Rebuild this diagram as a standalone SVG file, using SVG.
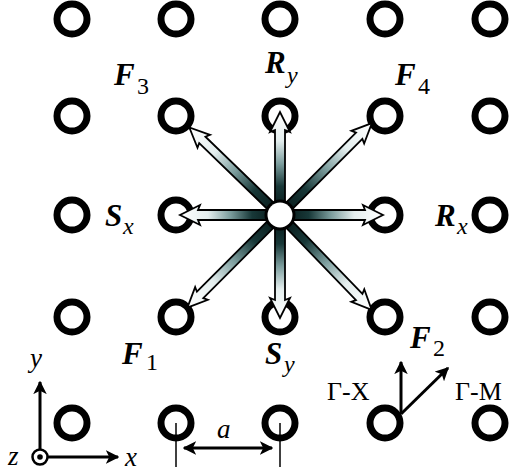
<svg xmlns="http://www.w3.org/2000/svg" width="511" height="474" viewBox="0 0 511 474">
<style>
.site{fill:none;stroke:#000;stroke-width:7}
.arr{stroke:#000;stroke-width:1.8;stroke-linejoin:miter;fill:url(#g)}
.lbl{font-family:"Liberation Serif","Times New Roman",serif;font-weight:bold;font-style:italic;font-size:31px;fill:#000}
.sub{font-family:"Liberation Serif","Times New Roman",serif;font-size:24px;fill:#000}
.subi{font-family:"Liberation Serif","Times New Roman",serif;font-style:italic;font-size:24px;fill:#000}
.ax{font-family:"Liberation Serif","Times New Roman",serif;font-style:italic;font-size:27px;fill:#000}
.gm{font-family:"Liberation Serif","Times New Roman",serif;font-size:26px;fill:#000}
.ln{stroke:#000;stroke-width:3;fill:none}
</style>
<defs>
<linearGradient id="g" x1="0" y1="0" x2="1" y2="0">
<stop offset="0" stop-color="#031212"/>
<stop offset="0.28" stop-color="#183838"/>
<stop offset="0.5" stop-color="#7d9e9e"/>
<stop offset="0.72" stop-color="#e4eeee"/>
<stop offset="1" stop-color="#ffffff"/>
</linearGradient>
<marker id="ah" viewBox="0 0 10 10" refX="9" refY="5" markerWidth="4.5" markerHeight="4.5" orient="auto-start-reverse">
<path d="M0,0 L10,5 L0,10 L2.5,5 Z" fill="#000"/>
</marker>
</defs>

<g id="sites">
<g id="n11"><circle class="site" cx="72" cy="19" r="15"/></g>
<g id="n12"><circle class="site" cx="176" cy="19" r="15"/></g>
<g id="n13"><circle class="site" cx="280" cy="19" r="15"/></g>
<g id="n14"><circle class="site" cx="385" cy="19" r="15"/></g>
<g id="n15"><circle class="site" cx="490" cy="19" r="15"/></g>
<g id="n21"><circle class="site" cx="72" cy="116" r="15"/></g>
<g id="n22"><circle class="site" cx="176" cy="116" r="15"/></g>
<g id="n23"><circle class="site" cx="280" cy="116" r="15"/></g>
<g id="n24"><circle class="site" cx="385" cy="116" r="15"/></g>
<g id="n25"><circle class="site" cx="490" cy="116" r="15"/></g>
<g id="n31"><circle class="site" cx="72" cy="215" r="15"/></g>
<g id="n32"><circle class="site" cx="176" cy="215" r="15"/></g>
<g id="n34"><circle class="site" cx="385" cy="215" r="15"/></g>
<g id="n35"><circle class="site" cx="490" cy="215" r="15"/></g>
<g id="n41"><circle class="site" cx="72" cy="317" r="15"/></g>
<g id="n42"><circle class="site" cx="176" cy="317" r="15"/></g>
<g id="n43"><circle class="site" cx="280" cy="317" r="15"/></g>
<g id="n44"><circle class="site" cx="385" cy="317" r="15"/></g>
<g id="n45"><circle class="site" cx="490" cy="317" r="15"/></g>
<g id="n51"><circle class="site" cx="72" cy="423" r="15"/></g>
<g id="n52"><circle class="site" cx="176" cy="423" r="15"/></g>
<g id="n53"><circle class="site" cx="280" cy="423" r="15"/></g>
<g id="n54"><circle class="site" cx="385" cy="423" r="15"/></g>
<g id="n55"><circle class="site" cx="490" cy="423" r="15"/></g>
</g>

<g id="connectors">
<path class="arr" transform="translate(280,215) rotate(180)" d="M0,-5 L82,-5 L80,-10 L100,0 L80,10 L82,5 L0,5 Z"/>
<path class="arr" transform="translate(280,215)" d="M0,-5 L85,-5 L83,-10 L103,0 L83,10 L85,5 L0,5 Z"/>
<path class="arr" transform="translate(280,215) rotate(-90)" d="M0,-5 L85,-5 L83,-10 L103,0 L83,10 L85,5 L0,5 Z"/>
<path class="arr" transform="translate(280,215) rotate(90)" d="M0,-5 L85,-5 L83,-10 L103,0 L83,10 L85,5 L0,5 Z"/>
<path class="arr" transform="translate(280,215) rotate(-136)" d="M0,-4.5 L108,-4.5 L106,-9 L126,0 L106,9 L108,4.5 L0,4.5 Z"/>
<path class="arr" transform="translate(280,215) rotate(-45)" d="M0,-4.5 L112,-4.5 L110,-9 L130,0 L110,9 L112,4.5 L0,4.5 Z"/>
<path class="arr" transform="translate(280,215) rotate(135)" d="M0,-4.5 L113,-4.5 L111,-9 L131,0 L111,9 L113,4.5 L0,4.5 Z"/>
<path class="arr" transform="translate(280,215) rotate(46)" d="M0,-4.5 L114,-4.5 L112,-9 L132,0 L112,9 L114,4.5 L0,4.5 Z"/>
</g>

<g id="center">
<circle cx="280" cy="215" r="15.5" fill="#000"/>
<circle cx="280" cy="215" r="12.5" fill="#fff"/>
</g>

<g id="labels">
<text class="lbl" x="114" y="85">F</text><text class="sub" x="137" y="94">3</text>
<text class="lbl" x="265" y="73">R</text><text class="subi" x="287" y="83">y</text>
<text class="lbl" x="395" y="85">F</text><text class="sub" x="418" y="94">4</text>
<text class="lbl" x="105" y="226">S</text><text class="subi" x="123" y="234">x</text>
<text class="lbl" x="435" y="226">R</text><text class="subi" x="457" y="234">x</text>
<text class="lbl" x="122" y="364">F</text><text class="sub" x="146" y="370">1</text>
<text class="lbl" x="265" y="364">S</text><text class="subi" x="284" y="372">y</text>
<text class="lbl" x="410" y="348">F</text><text class="sub" x="433" y="356">2</text>
</g>

<g id="axes">
<line class="ln" x1="40" y1="449" x2="40" y2="382" marker-end="url(#ah)"/>
<line class="ln" x1="48" y1="457" x2="118" y2="457" marker-end="url(#ah)"/>
<circle cx="40" cy="457" r="7.5" fill="#fff" stroke="#000" stroke-width="2.5"/>
<circle cx="40" cy="457" r="2.8" fill="#000"/>
<text class="ax" x="30" y="367">y</text>
<text class="ax" x="125" y="466">x</text>
<text class="ax" x="8" y="465">z</text>
</g>

<g id="dimension">
<line x1="176" y1="423" x2="176" y2="467" stroke="#000" stroke-width="1.5"/>
<line x1="280" y1="423" x2="280" y2="467" stroke="#000" stroke-width="1.5"/>
<line class="ln" x1="184" y1="448" x2="272" y2="448" marker-start="url(#ah)" marker-end="url(#ah)"/>
<text class="ax" x="217" y="438">a</text>
</g>

<g id="directions">
<line class="ln" x1="401" y1="414" x2="401" y2="362" marker-end="url(#ah)"/>
<line class="ln" x1="401" y1="414" x2="448" y2="368" marker-end="url(#ah)"/>
<text class="gm" x="327" y="400">Γ-X</text>
<text class="gm" x="455" y="400">Γ-M</text>
</g>
</svg>
